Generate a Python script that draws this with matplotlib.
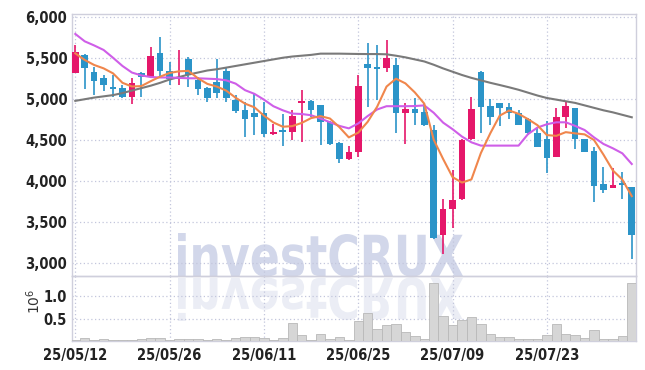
import matplotlib
matplotlib.use('Agg')
import matplotlib.pyplot as plt
import numpy as np
from matplotlib.textpath import TextPath
from matplotlib.patches import PathPatch
from matplotlib.font_manager import FontProperties, fontManager
from matplotlib.transforms import Affine2D, IdentityTransform

# ---------------- data ----------------
opens = [5320, 5530, 5330, 5250, 5145, 5130, 5025, 5310, 5260, 5560,
         5340, 5250, 5480, 5235, 5130, 5210, 5340, 4985, 4865, 4830,
         4825, 4570, 4620, 4600, 4955, 4975, 4925, 4720, 4465, 4265,
         4355, 5425, 5385, 5370, 5410, 4830, 4870, 4840, 4620, 3340,
         3655, 3775, 4505, 5330, 4910, 4945, 4905, 4830, 4760, 4580,
         4505, 4295, 4775, 4885, 4505, 4370, 3960, 3915, 3970, 3920]
highs = [5650, 5550, 5390, 5290, 5290, 5170, 5255, 5330, 5635, 5750,
         5450, 5600, 5505, 5270, 5140, 5480, 5370, 5045, 4965, 5075,
         4965, 4695, 4815, 4865, 5105, 4985, 4930, 4725, 4470, 4420,
         5290, 5685, 5655, 5715, 5495, 4945, 5005, 4945, 4680, 3775,
         4135, 4510, 5020, 5335, 4995, 4955, 4955, 4865, 4770, 4640,
         4735, 4885, 4965, 4890, 4510, 4415, 4175, 4155, 4110, 3925]
lows = [5310, 5115, 5045, 5100, 5025, 5005, 4935, 5025, 5255, 5270,
        5170, 5168, 5145, 5045, 4965, 5005, 4965, 4830, 4530, 4560,
        4540, 4565, 4425, 4500, 4480, 4775, 4440, 4435, 4215, 4255,
        4290, 4905, 4985, 5330, 4580, 4455, 4680, 4670, 3290, 3110,
        3425, 3770, 4500, 4580, 4680, 4670, 4760, 4680, 4560, 4410,
        4095, 4290, 4640, 4385, 4350, 3745, 3855, 3910, 3775, 3055]
closes = [5570, 5380, 5220, 5170, 5120, 5025, 5190, 5260, 5520, 5340,
          5240, 5260, 5290, 5115, 5005, 5075, 5015, 4855, 4755, 4780,
          4570, 4600, 4595, 4790, 4975, 4865, 4720, 4450, 4265, 4350,
          5155, 5380, 5365, 5495, 4830, 4870, 4830, 4680, 3300, 3655,
          3765, 4500, 4870, 4905, 4780, 4890, 4825, 4685, 4580, 4415,
          4285, 4780, 4910, 4505, 4355, 3940, 3890, 3945, 3950, 3340]
ma_orange = [5554, 5473, 5412, 5371, 5310, 5195, 5150, 5155, 5215, 5270,
             5315, 5335, 5340, 5250, 5182, 5149, 5100, 5013, 4941, 4896,
             4795, 4712, 4660, 4667, 4706, 4765, 4789, 4760, 4655, 4530,
             4588, 4720, 4903, 5149, 5245, 5188, 5078, 4941, 4502, 4267,
             4046, 3980, 4018, 4339, 4580, 4795, 4858, 4817, 4752, 4679,
             4558, 4549, 4594, 4579, 4567, 4498, 4320, 4127, 4016, 3815]
ma_purple = [5790, 5700, 5650, 5595, 5500, 5400, 5320, 5285, 5265, 5260,
             5260, 5255, 5250, 5250, 5245, 5240, 5225, 5185, 5105, 5060,
             4990, 4910, 4860, 4820, 4815, 4800, 4760, 4715, 4670, 4640,
             4700, 4790, 4870, 4910, 4910, 4910, 4912, 4920, 4830, 4710,
             4630, 4540, 4470, 4430, 4430, 4430, 4430, 4430, 4570, 4650,
             4690, 4714, 4714, 4670, 4620, 4530, 4450, 4397, 4336, 4206]
ma_gray = [4975, 4995, 5015, 5030, 5045, 5070, 5100, 5130, 5160, 5195,
           5235, 5265, 5295, 5320, 5345, 5360, 5380, 5400, 5420, 5440,
           5460, 5480, 5500, 5515, 5525, 5535, 5550, 5550, 5550, 5548,
           5546, 5545, 5545, 5542, 5525, 5505, 5480, 5455, 5415, 5370,
           5330, 5290, 5255, 5225, 5195, 5168, 5140, 5110, 5075, 5040,
           5010, 4990, 4970, 4950, 4920, 4890, 4860, 4835, 4805, 4775]
volume_m = [0.05, 0.09, 0.05, 0.075, 0.05, 0.05, 0.05, 0.075, 0.095, 0.095,
            0.05, 0.07, 0.07, 0.07, 0.05, 0.075, 0.05, 0.09, 0.11, 0.11,
            0.09, 0.05, 0.09, 0.41, 0.16, 0.05, 0.175, 0.066, 0.11, 0.05,
            0.46, 0.63, 0.28, 0.375, 0.40, 0.22, 0.14, 0.066, 1.27, 0.57,
            0.375, 0.48, 0.54, 0.40, 0.18, 0.11, 0.11, 0.066, 0.066, 0.066,
            0.16, 0.40, 0.18, 0.16, 0.09, 0.26, 0.066, 0.066, 0.14, 1.29]
tick_pos = [0, 10, 20, 30, 40, 50]
tick_labels = ['25/05/12', '25/05/26', '25/06/11', '25/06/25', '25/07/09', '25/07/23']
price_ticks = [3000, 3500, 4000, 4500, 5000, 5500, 6000]
vol_ticks = [0.5, 1.0]

# ---------------- fonts ----------------
cond = None
for f in fontManager.ttflist:
    nm = f.name.lower()
    if ('condensed' in nm or 'narrow' in nm or str(f.stretch).lower() in
            ('condensed', 'semi-condensed', 'extra-condensed')) and 'mono' not in nm \
            and 'serif' not in nm.replace('sans serif', ''):
        cond = f
        if 'bold' not in str(f.weight).lower():
            break
if cond is not None:
    LABFP = FontProperties(fname=cond.fname, size=10.5)
else:
    LABFP = FontProperties(family='Roboto', weight='medium', size=10)

UP = '#e5176a'
DOWN = '#2b94c8'
GRID = '#c3c6dc'
SPINE = '#cfcfdc'
W, H = 645, 370

fig = plt.figure(figsize=(W / 100, H / 100), dpi=100)
fig.patch.set_facecolor('white')
ax = fig.add_axes([72 / W, 1 - 276 / H, (636 - 72) / W, (276 - 13.5) / H])
axv = fig.add_axes([72 / W, 1 - 341 / H, (636 - 72) / W, (341 - 276) / H], sharex=ax)
for a in (ax, axv):
    a.set_facecolor('none')
    for s in a.spines.values():
        s.set_color(SPINE)
        s.set_linewidth(1.0)
    a.tick_params(length=0, labelcolor='#222222')

x = np.arange(len(closes))
o = np.array(opens); c = np.array(closes); hi = np.array(highs); lo = np.array(lows)
cols = [UP if cc >= oo else DOWN for oo, cc in zip(o, c)]
ax.vlines(x, lo, hi, colors=cols, linewidth=1.2, zorder=3)
bh = np.maximum(np.abs(c - o), 28)
bb = np.minimum(o, c) - (bh - np.abs(c - o)) / 2
ax.bar(x, bh, bottom=bb, width=0.7, color=cols, linewidth=0, zorder=4)

ax.plot(x, ma_gray, color='#7a7a7a', lw=1.5, zorder=5)
ax.plot(x, ma_purple, color='#cf5ee8', lw=1.5, zorder=5)
ax.plot(x, ma_orange, color='#f0864c', lw=1.5, zorder=5)

ax.set_xlim(-0.35, 59.45)
ax.set_ylim(2842, 6039)
ax.set_yticks(price_ticks)
ax.set_yticklabels([f'{v:,}' for v in price_ticks], fontproperties=LABFP)
ax.set_xticks(tick_pos)
ax.tick_params(axis='x', labelbottom=False)
ax.grid(True, color=GRID, linestyle=(0, (1, 2)), linewidth=0.9)
ax.set_axisbelow(True)

axv.bar(x, volume_m, width=1.0, color='#d6d6d6', edgecolor='#b8b8b8', linewidth=0.6, zorder=3)
axv.set_ylim(0.03, 1.43)
axv.set_yticks(vol_ticks)
axv.set_yticklabels(['0.5', '1.0'], fontproperties=LABFP)
axv.set_xticks(tick_pos)
axv.set_xticklabels(tick_labels, fontproperties=LABFP)
axv.grid(True, color=GRID, linestyle=(0, (1, 2)), linewidth=0.9)
axv.set_axisbelow(True)
axv.tick_params(axis='y', pad=4)
axv.tick_params(axis='x', pad=5)

fig.text(34 / W, 1 - 301 / H, r'$10^6$', rotation=90, ha='center', va='center',
         fontsize=10, color='#333333')

# ---------------- watermark ----------------
tp = TextPath((0, 0), 'investCRUX', size=60,
              prop=FontProperties(family='DejaVu Sans', weight='bold'))
ext = tp.get_extents()
x0, x1 = 178, 463
ytop, ybase = 233, 276
sx = (x1 - x0) / ext.width
sy = (ybase - ytop) / ext.y1
tr = Affine2D().translate(-ext.x0, 0).scale(sx, sy).translate(x0, H - ybase)
fig.patches.append(PathPatch(tp, transform=tr + IdentityTransform(), facecolor='#cdd3e8',
                             edgecolor='none', zorder=-1, alpha=0.9))
trr = Affine2D().translate(-ext.x0, 0).scale(sx, -sy).translate(x0, H - ybase - 2)
fig.patches.append(PathPatch(tp, transform=trr + IdentityTransform(), facecolor='#e6e9f3',
                             edgecolor='none', zorder=-1, alpha=0.8))

fig.savefig('out.png', dpi=100, facecolor='white')
